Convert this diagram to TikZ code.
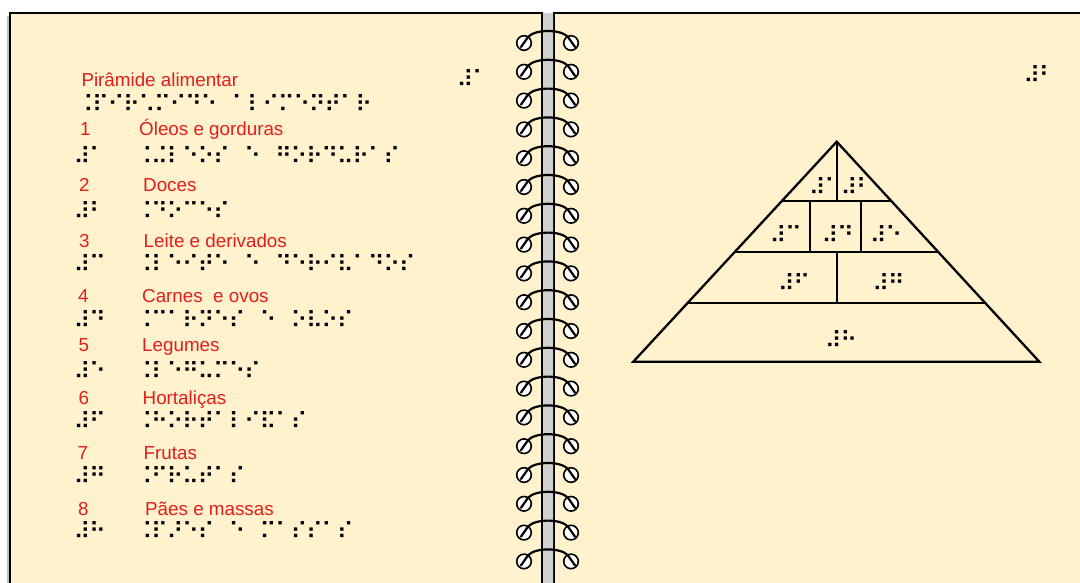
\documentclass[tikz,border=0pt]{standalone}
\usepackage{fontspec}
\setmainfont{Liberation Sans}
\newfontfamily\brfont{DejaVu Sans}
\usetikzlibrary{calc}
\definecolor{cream}{HTML}{FFF2CC}
\definecolor{redtxt}{RGB}{225,30,30}
\newlength\brpitch
\setlength\brpitch{15.5pt}
\ExplSyntaxOn
\NewDocumentCommand\brl{m}{\tl_map_inline:nn{#1}{\makebox[\brpitch][l]{##1}}}
\ExplSyntaxOff
\def\bdx{4.6}
\def\bdy{11.5}
\newcommand\brnode[4]{\node[brl] (#1) at ({#2-\bdx},{#3+\bdy}) {\brl{#4}};}
\begin{document}
\begin{tikzpicture}[x=1pt,y=-1pt,
  page/.style={fill=cream, draw=black, line width=2pt},
  lbl/.style={font=\fontsize{18.8}{20}\selectfont, text=redtxt, inner sep=0pt, anchor=base west},
  brl/.style={font=\brfont\fontsize{23}{23}\selectfont, inner sep=0pt, anchor=base west},
  ring/.style={draw=black, fill=white, line width=1.6pt},
  wire/.style={draw=black, line width=2.2pt, line cap=round},
  pyr/.style={draw=black, line width=2.3pt, line join=miter}]
\useasboundingbox (0,0) rectangle (1080,582);
\fill[white] (0,0) rectangle (1080,582);
\clip (0,0) rectangle (1080,582);
% pages
\fill[black!25] (7,16) rectangle (10,600);
\draw[page] (10,13) rectangle (542,600);
\draw[page] (554,13) rectangle (1090,600);
\shade[left color=black!18, middle color=white, right color=black!18] (543,13) rectangle (553,600);
% rings
\foreach \k in {0,...,18}{
  \pgfmathsetmacro\yc{43+28.8*\k}
  \draw[ring] (524,\yc) circle[radius=7.3];
  \draw[ring] (571,\yc) circle[radius=7.3];
  \draw[wire] (521,{\yc+4}) -- (528,{\yc-6}) .. controls (535,{\yc-14}) and (561,{\yc-14}) .. (568,{\yc-6}) -- (575,{\yc+4});
}
% left page texts
\node[lbl] (t0) at (81.3,86) {Pirâmide alimentar};
\brnode{b0}{81}{100.7}{⠨⠏⠊⠗⠡⠍⠊⠙⠑⠀⠁⠇⠊⠍⠑⠝⠞⠁⠗}
\node[lbl] (n1) at (80,135.5) {1};
\node[lbl] (t1) at (139,135.5) {Óleos e gorduras};
\brnode{c1}{78}{152.5}{⠼⠁}
\brnode{b1}{140}{152.5}{⠨⠬⠇⠑⠕⠎⠀⠑⠀⠛⠕⠗⠙⠥⠗⠁⠎}
\node[lbl] (n2) at (79,191) {2};
\node[lbl] (t2) at (143,191) {Doces};
\brnode{c2}{78}{207.5}{⠼⠃}
\brnode{b2}{140}{207.5}{⠨⠙⠕⠉⠑⠎}
\node[lbl] (n3) at (79,247.5) {3};
\node[lbl] (t3) at (143.5,247.5) {Leite e derivados};
\brnode{c3}{78}{261}{⠼⠉}
\brnode{b3}{140}{261}{⠨⠇⠑⠊⠞⠑⠀⠑⠀⠙⠑⠗⠊⠧⠁⠙⠕⠎}
\node[lbl] (n4) at (78,302.5) {4};
\node[lbl] (t4) at (142,302.5) {Carnes\ \ e ovos};
\brnode{c4}{78}{316.7}{⠼⠙}
\brnode{b4}{140}{316.7}{⠨⠉⠁⠗⠝⠑⠎⠀⠑⠀⠕⠧⠕⠎}
\node[lbl] (n5) at (78.5,351) {5};
\node[lbl] (t5) at (142,351) {Legumes};
\brnode{c5}{78}{368}{⠼⠑}
\brnode{b5}{140}{368}{⠨⠇⠑⠛⠥⠍⠑⠎}
\node[lbl] (n6) at (78.5,404.5) {6};
\node[lbl] (t6) at (142.5,404.5) {Hortaliças};
\brnode{c6}{78}{418}{⠼⠋}
\brnode{b6}{140}{418}{⠨⠓⠕⠗⠞⠁⠇⠊⠯⠁⠎}
\node[lbl] (n7) at (77.5,459) {7};
\node[lbl] (t7) at (143.5,459) {Frutas};
\brnode{c7}{78}{472.5}{⠼⠛}
\brnode{b7}{140}{472.5}{⠨⠋⠗⠥⠞⠁⠎}
\node[lbl] (n8) at (78,515) {8};
\node[lbl] (t8) at (145,515) {Pães e massas};
\brnode{c8}{78}{527.5}{⠼⠓}
\brnode{b8}{140}{527.5}{⠨⠏⠜⠑⠎⠀⠑⠀⠍⠁⠎⠎⠁⠎}
% page numbers
\brnode{p1}{461}{76.4}{⠼⠁}
\brnode{p2}{1027.7}{72.3}{⠼⠃}
% pyramid
\coordinate (A) at (836.7,141.7);
\coordinate (BL) at (633.3,361.7);
\coordinate (BR) at (1039.3,361.7);
\draw[pyr] (A) -- (BL) -- (BR) -- cycle;
\draw[pyr] ($(A)!0.26818!(BL)$) -- ($(A)!0.26818!(BR)$);
\draw[pyr] ($(A)!0.5!(BL)$) -- ($(A)!0.5!(BR)$);
\draw[pyr] ($(A)!0.73182!(BL)$) -- ($(A)!0.73182!(BR)$);
\draw[pyr] (836.7,141.7) -- (836.7,200.7);
\draw[pyr] (810,200.7) -- (810,251.7);
\draw[pyr] (860.7,200.7) -- (860.7,251.7);
\draw[pyr] (837.3,251.7) -- (837.3,302.7);
\brnode{q1}{813.3}{184.3}{⠼⠁}
\brnode{q2}{845}{184.3}{⠼⠃}
\brnode{q3}{774}{232.3}{⠼⠉}
\brnode{q4}{826}{232.3}{⠼⠙}
\brnode{q5}{874.3}{232.3}{⠼⠑}
\brnode{q6}{782.3}{280}{⠼⠋}
\brnode{q7}{876.7}{280}{⠼⠛}
\brnode{q8}{829.3}{336.7}{⠼⠓}
\end{tikzpicture}
\end{document}
